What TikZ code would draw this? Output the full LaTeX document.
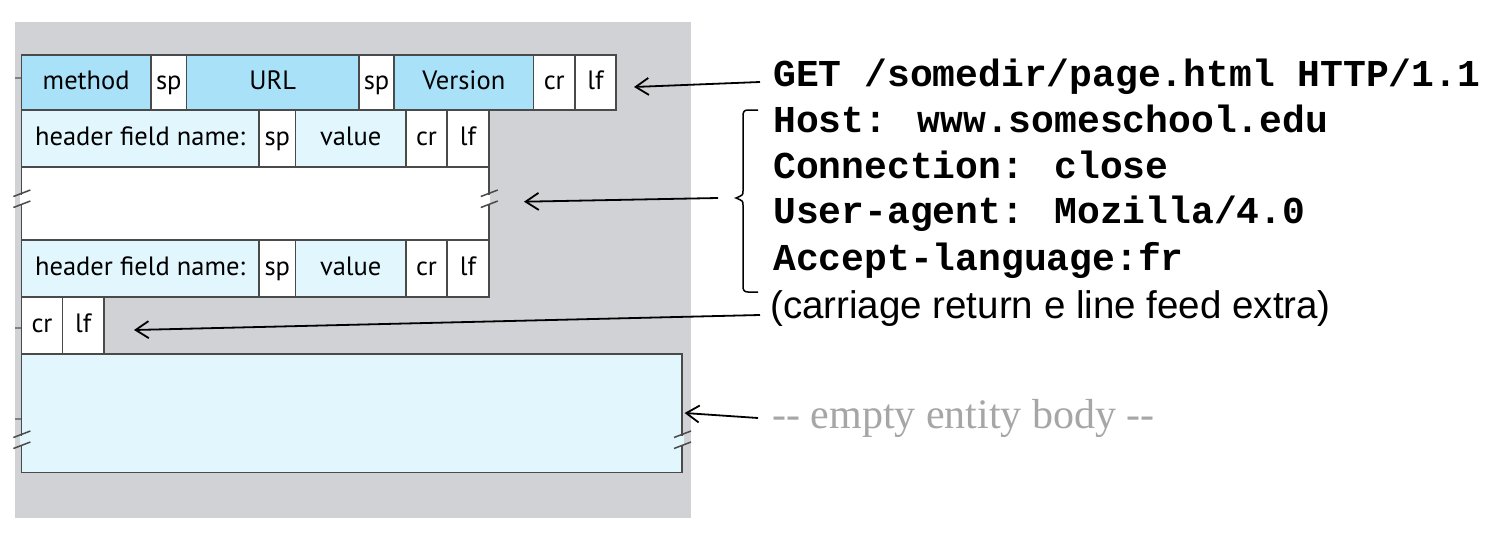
\documentclass[tikz,border=0pt]{standalone}
\usepackage{fontspec}
\usetikzlibrary{arrows.meta}
\newfontfamily\cellfont{PT Sans}
\newfontfamily\codefont{Liberation Mono}
\newfontfamily\notefont{Liberation Sans}
\newfontfamily\bodyfont{Liberation Serif}
\definecolor{panelgray}{HTML}{D1D2D6}
\definecolor{fieldblue}{HTML}{A8E1F8}
\definecolor{hdrblue}{HTML}{E1F6FD}
\definecolor{edgegray}{HTML}{4A4A4A}
\definecolor{notegray}{HTML}{A6A6A6}
% break mark across a vertical edge: #1,#2 = edge point, #3 = fill behind
\newcommand\edgebreak[3]{%
  \draw[line width=3pt,#3] (#1,#2-4.5) -- (#1,#2+4.5);
  \draw[edgegray,line width=1.5pt] (#1-8,#2-2.5) -- (#1+9,#2-9)
                                   (#1-8,#2+8.5) -- (#1+9,#2+2);
}
\tikzset{
  cell/.style={draw=edgegray, line width=1.6pt, rectangle, inner sep=0pt,
    font=\cellfont\fontsize{26.5}{31}\selectfont, text height=19pt, text depth=5pt},
  code/.style={anchor=base west, inner sep=0pt,
    font=\codefont\bfseries\fontsize{38}{46}\selectfont},
  ptr/.style={black, line width=1.8pt, -{Straight Barb[length=13pt,width=17pt,line width=1.8pt]}},
}
\begin{document}
\begin{tikzpicture}[x=1pt,y=-1pt]
  \fill[white] (0,0) rectangle (1500,538);
  \useasboundingbox (0,0) rectangle (1500,538);
  \fill[panelgray] (15,22) rectangle (691,518);

  % small stubs on the left of the panel
  \draw[gray,line width=1.5pt] (15,78) -- (21,78) (15,328) -- (21,328) (15,419) -- (21,419);

  % request line
  \node[cell,fill=fieldblue,minimum width=129.6pt,minimum height=55pt] (method) at (86.2,82.5) {method};
  \node[cell,fill=white,minimum width=35.6pt,minimum height=55pt] (sp1) at (168.8,82.5) {sp};
  \node[cell,fill=fieldblue,minimum width=172.4pt,minimum height=55pt] (url) at (272.8,82.5) {URL};
  \node[cell,fill=white,minimum width=35pt,minimum height=55pt] (sp2) at (376.5,82.5) {sp};
  \node[cell,fill=fieldblue,minimum width=139.5pt,minimum height=55pt] (version) at (463.75,82.5) {Version};
  \node[cell,fill=white,minimum width=41.5pt,minimum height=55pt] (cr1) at (554.25,82.5) {cr};
  \node[cell,fill=white,minimum width=41pt,minimum height=55pt] (lf1) at (595.5,82.5) {lf};

  % first header line
  \node[cell,fill=hdrblue,minimum width=237.6pt,minimum height=57pt] (hname1) at (140.2,138.5) {header field name:};
  \node[cell,fill=white,minimum width=36.5pt,minimum height=57pt] (hsp1) at (277.25,138.5) {sp};
  \node[cell,fill=hdrblue,minimum width=110.5pt,minimum height=57pt] (hval1) at (350.75,138.5) {value};
  \node[cell,fill=white,minimum width=41pt,minimum height=57pt] (hcr1) at (426.5,138.5) {cr};
  \node[cell,fill=white,minimum width=42pt,minimum height=57pt] (hlf1) at (468,138.5) {lf};

  % further header lines
  \node[cell,fill=white,minimum width=467.6pt,minimum height=73pt] (hmore) at (255.2,203.5) {};
  \edgebreak{21.4}{199}{white}
  \edgebreak{488.8}{199}{white}

  % last header line
  \node[cell,fill=hdrblue,minimum width=237.6pt,minimum height=57pt] (hname2) at (140.2,268.5) {header field name:};
  \node[cell,fill=white,minimum width=36.5pt,minimum height=57pt] (hsp2) at (277.25,268.5) {sp};
  \node[cell,fill=hdrblue,minimum width=110.5pt,minimum height=57pt] (hval2) at (350.75,268.5) {value};
  \node[cell,fill=white,minimum width=41pt,minimum height=57pt] (hcr2) at (426.5,268.5) {cr};
  \node[cell,fill=white,minimum width=42pt,minimum height=57pt] (hlf2) at (468,268.5) {lf};

  % blank line
  \node[cell,fill=white,minimum width=41.1pt,minimum height=57pt] (cr3) at (42,325.5) {cr};
  \node[cell,fill=white,minimum width=41.5pt,minimum height=57pt] (lf3) at (83.25,325.5) {lf};

  % entity body
  \node[cell,fill=hdrblue,minimum width=660.6pt,minimum height=118.5pt] (body) at (351.7,413.25) {};
  \edgebreak{21.4}{440}{hdrblue}
  \edgebreak{682}{440}{hdrblue}

  % example request
  \node[code] (get)  at (773,86.7)  {GET /somedir/page.html HTTP/1.1};
  \node[code] (host) at (773,132)   {Host: www.someschool.edu};
  \node[code] (conn) at (773,178)   {Connection: close};
  \node[code] (ua)   at (773,223.5) {User-agent: Mozilla/4.0};
  \node[code] (lang) at (773,270)   {Accept-language:fr};
  \node[anchor=base west,inner sep=0pt,font=\notefont\fontsize{38.5}{46}\selectfont] (crlf) at (770,318)
    {(carriage return e line feed extra)};
  \node[anchor=base west,inner sep=0pt,text=notegray,font=\bodyfont\fontsize{42}{48}\selectfont] (empty) at (772,428)
    {-- empty entity body --};

  % brace grouping the header lines
  \draw[black,line width=1.5pt] (758,110) -- (748,110) .. controls (744,110) and (743,112) .. (743,116)
    -- (743,191) .. controls (743,195) .. (736,198) .. controls (743,201) .. (743,205)
    -- (743,286) .. controls (743,290) and (744,292) .. (748,292) -- (758,292);

  % pointers
  \coordinate (p1s) at (760,82);   \coordinate (p1e) at (634,87);
  \coordinate (p2s) at (718,198);  \coordinate (p2e) at (524,201.7);
  \coordinate (p3s) at (760,315);  \coordinate (p3e) at (134,330);
  \coordinate (p4s) at (758,418);  \coordinate (p4e) at (684.6,413);
  \draw[ptr] (p1s) -- (p1e);
  \draw[ptr] (p2s) -- (p2e);
  \draw[ptr] (p3s) -- (p3e);
  \draw[ptr] (p4s) -- (p4e);
\end{tikzpicture}
\end{document}
